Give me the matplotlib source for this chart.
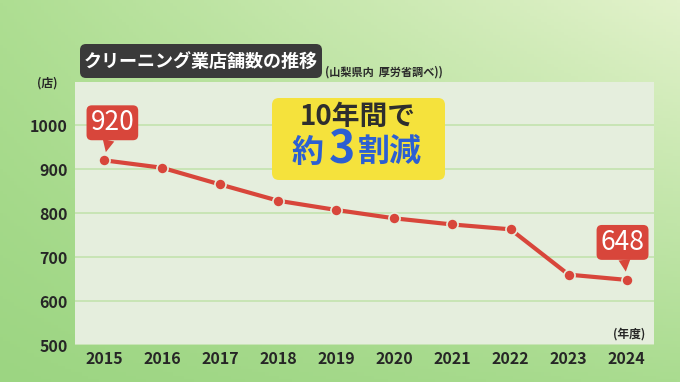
import numpy as np
from matplotlib import pyplot as plt
from matplotlib import patches as mpatches

## data
years = [2015, 2016, 2017, 2018, 2019, 2020, 2021, 2022, 2023, 2024]
shops = [920, 903, 865, 828, 807, 788, 774, 763, 660, 648]
yticks = [500, 600, 700, 800, 900, 1000]
title = 'クリーニング業店舗数の推移'
source = '(山梨県内  厚労省調べ))'
unitY = '(店)'
unitX = '(年度)'

## setup
plt.rcParams['font.family'] = ['Noto Sans CJK JP', 'DejaVu Sans']
W, H = 680, 382
fig = plt.figure(figsize=(W/100, H/100), dpi=100)

# green gradient background
bg = fig.add_axes([0, 0, 1, 1], zorder=-10)
bg.axis('off')
tl = np.array([0xae, 0xde, 0x92]) / 255
tr = np.array([0xe2, 0xf2, 0xcb]) / 255
bl = np.array([0x9c, 0xd5, 0x82]) / 255
br = np.array([0xaa, 0xdc, 0x90]) / 255
u = np.linspace(0, 1, 200)[None, :, None]
v = np.linspace(0, 1, 120)[:, None, None]
grad = (1-v)*((1-u)*tl + u*tr) + v*((1-u)*bl + u*br)
bg.imshow(grad, aspect='auto', extent=[0, 1, 0, 1])
bg.set_xlim(0, 1)
bg.set_ylim(0, 1)

# plot panel
ax = fig.add_axes([75/W, 1-345/H, (654-75)/W, (345-82)/H])
panel = '#e5eedd'
ax.set_facecolor(panel)
for s in ax.spines.values():
    s.set_visible(False)
ax.set_xlim(2014.5, 2024.47)
ax.set_ylim(500, 1098)
ax.set_yticks(yticks)
ax.set_xticks(years)
ax.tick_params(length=0, labelsize=11.5, colors='#262626')
ax.tick_params(axis='x', pad=4)
ax.tick_params(axis='y', pad=5)
for lab in ax.get_xticklabels() + ax.get_yticklabels():
    lab.set_fontweight('bold')
ax.grid(axis='y', color='#c3e2ad', lw=1.2)
ax.set_axisbelow(True)

red = '#d8463b'
ax.plot(years, shops, color=red, lw=3, marker='o', ms=8,
        mec=panel, mew=1.2, zorder=3)

# callouts for first and last value
for x, y, dx in [(years[0], shops[0], 6), (years[-1], shops[-1], -3)]:
    ax.annotate(str(y), xy=(x, y), xytext=(dx, 27), textcoords='offset points',
                ha='center', va='center', fontsize=19, color='white',
                bbox=dict(boxstyle='round,pad=0.15,rounding_size=0.2', fc=red, ec='none'),
                arrowprops=dict(arrowstyle='wedge,tail_width=0.45', fc=red, ec='none',
                                shrinkA=0, shrinkB=6),
                zorder=5)

fig.text(47/W, 1-83/H, unitY, ha='center', va='center', fontsize=8.5,
         fontweight='bold', color='#262626')
ax.text(0.985, 0.04, unitX, transform=ax.transAxes, ha='right', va='center',
        fontsize=8.5, fontweight='bold', color='#262626')

# title box
fig.patches.append(mpatches.FancyBboxPatch((80/100, (H-78)/100), 242/100, 34/100,
                   boxstyle='round,pad=0,rounding_size=0.06', fc='#3a3a3a', ec='none',
                   transform=fig.dpi_scale_trans, figure=fig))
fig.text(201/W, 1-61/H, title, ha='center', va='center', fontsize=13,
         fontweight='bold', color='white')
fig.text(325/W, 1-72/H, source, ha='left', va='center', fontsize=8,
         fontweight='bold', color='#2a2a2a')

# yellow message box
fig.patches.append(mpatches.FancyBboxPatch((272/100, (H-180)/100), 173/100, 82/100,
                   boxstyle='round,pad=0,rounding_size=0.07', fc='#f5e23c', ec='none',
                   transform=fig.dpi_scale_trans, figure=fig))
fig.text(358/W, 1-117/H, '10年間で', ha='center', va='center', fontsize=20,
         fontweight='bold', color='#2e2e2e')
blue = '#2c5fd3'
fig.text(324/W, 1-153/H, '約', ha='right', va='center', fontsize=23,
         fontweight='bold', color=blue)
fig.text(342/W, 1-151/H, '3', ha='center', va='center', fontsize=32,
         fontweight='bold', color=blue)
fig.text(358/W, 1-153/H, '割減', ha='left', va='center', fontsize=23,
         fontweight='bold', color=blue)

fig.savefig('out.png', dpi=100)
